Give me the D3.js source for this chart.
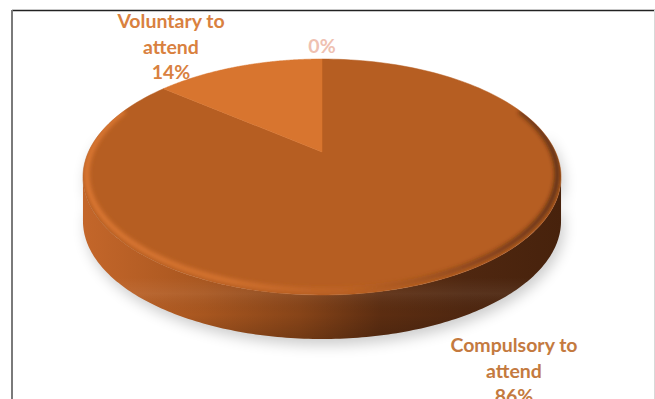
<!DOCTYPE html>
<html>
<head>
<meta charset="utf-8">
<script src="https://cdn.jsdelivr.net/npm/d3@7"></script>
<style>
html,body{margin:0;padding:0;background:#fff;}
svg{display:block;}
text{font-family:Lato,"Open Sans",sans-serif;font-weight:700;}
</style>
</head>
<body>
<svg id="chart" width="655" height="399"></svg>
<script>
// ---- data ----
const categories = ["Compulsory to attend", "Voluntary to attend", ""];
const values = [86, 14, 0];
const valueLabels = ["86%", "14%", "0%"];
const sliceColors = ["#b65e22", "#d8752f", "#e8a27a"];
const labelColors = ["#c47a3f", "#d9813f", "#efc1b1"];

// ---- geometry ----
const W = 655, H = 399;
const cx = 322, cy = 152;      // projected pie centre (apex)
const aR = 233.6, bR = 112.7, kR = 0.212;  // perspective projection params
const depth = 44;

function proj(theta, dy = 0, s = 1) {
  const X = Math.sin(theta) * s, Z = Math.cos(theta) * s;
  const d = 1 + kR * Z;
  return [cx + aR * X / d, cy - bR * Z / d + dy];
}

const svg = d3.select("#chart");
const defs = svg.append("defs");

// side gradient (horizontal)
const sg = defs.append("linearGradient").attr("id", "sideGrad")
  .attr("gradientUnits", "userSpaceOnUse").attr("x1", 85).attr("x2", 562).attr("y1", 0).attr("y2", 0);
[[0, "#c3662a"], [0.25, "#a8561f"], [0.45, "#874418"], [0.62, "#5c2d11"], [0.8, "#4f2710"], [1, "#47220c"]]
  .forEach(([o, c]) => sg.append("stop").attr("offset", o).attr("stop-color", c));

// vertical shading for side
const vg = defs.append("linearGradient").attr("id", "sideShade")
  .attr("x1", 0).attr("x2", 0).attr("y1", 0).attr("y2", 1);
[[0, "#ffffff", 0.0], [0.62, "#ffffff", 0.0], [0.72, "#ffffff", 0.06], [0.85, "#000000", 0.0], [1, "#000000", 0.15]]
  .forEach(([o, c, a]) => vg.append("stop").attr("offset", o).attr("stop-color", c).attr("stop-opacity", a));

const blur = defs.append("filter").attr("id", "shadowBlur")
  .attr("x", "-20%").attr("y", "-20%").attr("width", "140%").attr("height", "140%");
blur.append("feGaussianBlur").attr("stdDeviation", 7);

const soft = defs.append("filter").attr("id", "soft")
  .attr("x", "-10%").attr("y", "-10%").attr("width", "120%").attr("height", "120%");
soft.append("feGaussianBlur").attr("stdDeviation", 2);

// frame
svg.append("line").attr("x1", 12).attr("x2", 655).attr("y1", 10.5).attr("y2", 10.5)
  .attr("stroke", "#222").attr("stroke-width", 1.5);
svg.append("line").attr("x1", 12).attr("x2", 12).attr("y1", 10).attr("y2", H)
  .attr("stroke", "#7a7a7a").attr("stroke-width", 2);
svg.append("line").attr("x1", 654.5).attr("x2", 654.5).attr("y1", 10).attr("y2", H)
  .attr("stroke", "#d8d8d8").attr("stroke-width", 1);

const line = d3.line();
const N = 180;

// angle range of visible side
const thR = Math.acos(-kR);              // right extreme (~102deg)
const thL = 2 * Math.PI - thR;           // left extreme
function arcPts(a0, a1, dy, s = 1) {
  const pts = [];
  for (let i = 0; i <= N; i++) pts.push(proj(a0 + (a1 - a0) * i / N, dy, s));
  return pts;
}
const sidePts = arcPts(thR, thL, 0).concat(arcPts(thL, thR, depth));

// shadow
const shadowPts = arcPts(thR - 0.4, thL + 0.4, 0).concat(arcPts(thL + 0.4, thR - 0.4, depth));
svg.append("path").attr("d", line(shadowPts) + "Z")
  .attr("transform", "translate(3,6)")
  .attr("fill", "#000").attr("opacity", 0.2).attr("filter", "url(#shadowBlur)");

// side
svg.append("path").attr("d", line(sidePts) + "Z").attr("fill", "url(#sideGrad)");
svg.append("path").attr("d", line(sidePts) + "Z").attr("fill", "url(#sideShade)");

// top slices
const pie = d3.pie().sort(null).value(d => d).startAngle(0).endAngle(2 * Math.PI);
const arcs = pie(values);
const gTop = svg.append("g");
arcs.forEach((a, i) => {
  if (a.endAngle - a.startAngle <= 0) return;
  const pts = [[cx, cy]].concat(arcPts(a.startAngle, a.endAngle, 0));
  gTop.append("path").attr("d", line(pts) + "Z").attr("fill", sliceColors[i])
    .attr("stroke", sliceColors[i]).attr("stroke-width", 0.5).attr("stroke-linejoin", "round");
});

// bevel highlight on front rim of the top face
const clip = defs.append("clipPath").attr("id", "topClip");
clip.append("path").attr("d", line(arcPts(0, 2 * Math.PI, 0)) + "Z");
const rimG = defs.append("linearGradient").attr("id", "rimGrad")
  .attr("gradientUnits", "userSpaceOnUse").attr("x1", 85).attr("x2", 562).attr("y1", 0).attr("y2", 0);
[[0, "#e27c36", 0.9], [0.3, "#de7a34", 0.8], [0.55, "#c86a2a", 0.4], [0.8, "#5a2c10", 0.5], [1, "#3e1d0a", 0.8]]
  .forEach(([o, c, op]) => rimG.append("stop").attr("offset", o).attr("stop-color", c).attr("stop-opacity", op));
svg.append("g").attr("clip-path", "url(#topClip)")
  .append("path").attr("d", line(arcPts(thR - 0.6, thL + 0.6, -2, 0.985)))
  .attr("fill", "none").attr("stroke", "url(#rimGrad)").attr("stroke-width", 5).attr("filter", "url(#soft)");

// labels
const fs = 19.5, lh = 25.5;
function label(lines, x, yBase, color) {
  const t = svg.append("text").attr("text-anchor", "middle").attr("font-size", fs).attr("fill", color);
  lines.forEach((s, j) => t.append("tspan").attr("x", x).attr("y", yBase + j * lh).text(s));
}
label(["Compulsory to", "attend", valueLabels[0]], 514, 352, labelColors[0]);
label(["Voluntary to", "attend", valueLabels[1]], 171, 28, labelColors[1]);
label([valueLabels[2]], 322, 53, labelColors[2]);
</script>
</body>
</html>
